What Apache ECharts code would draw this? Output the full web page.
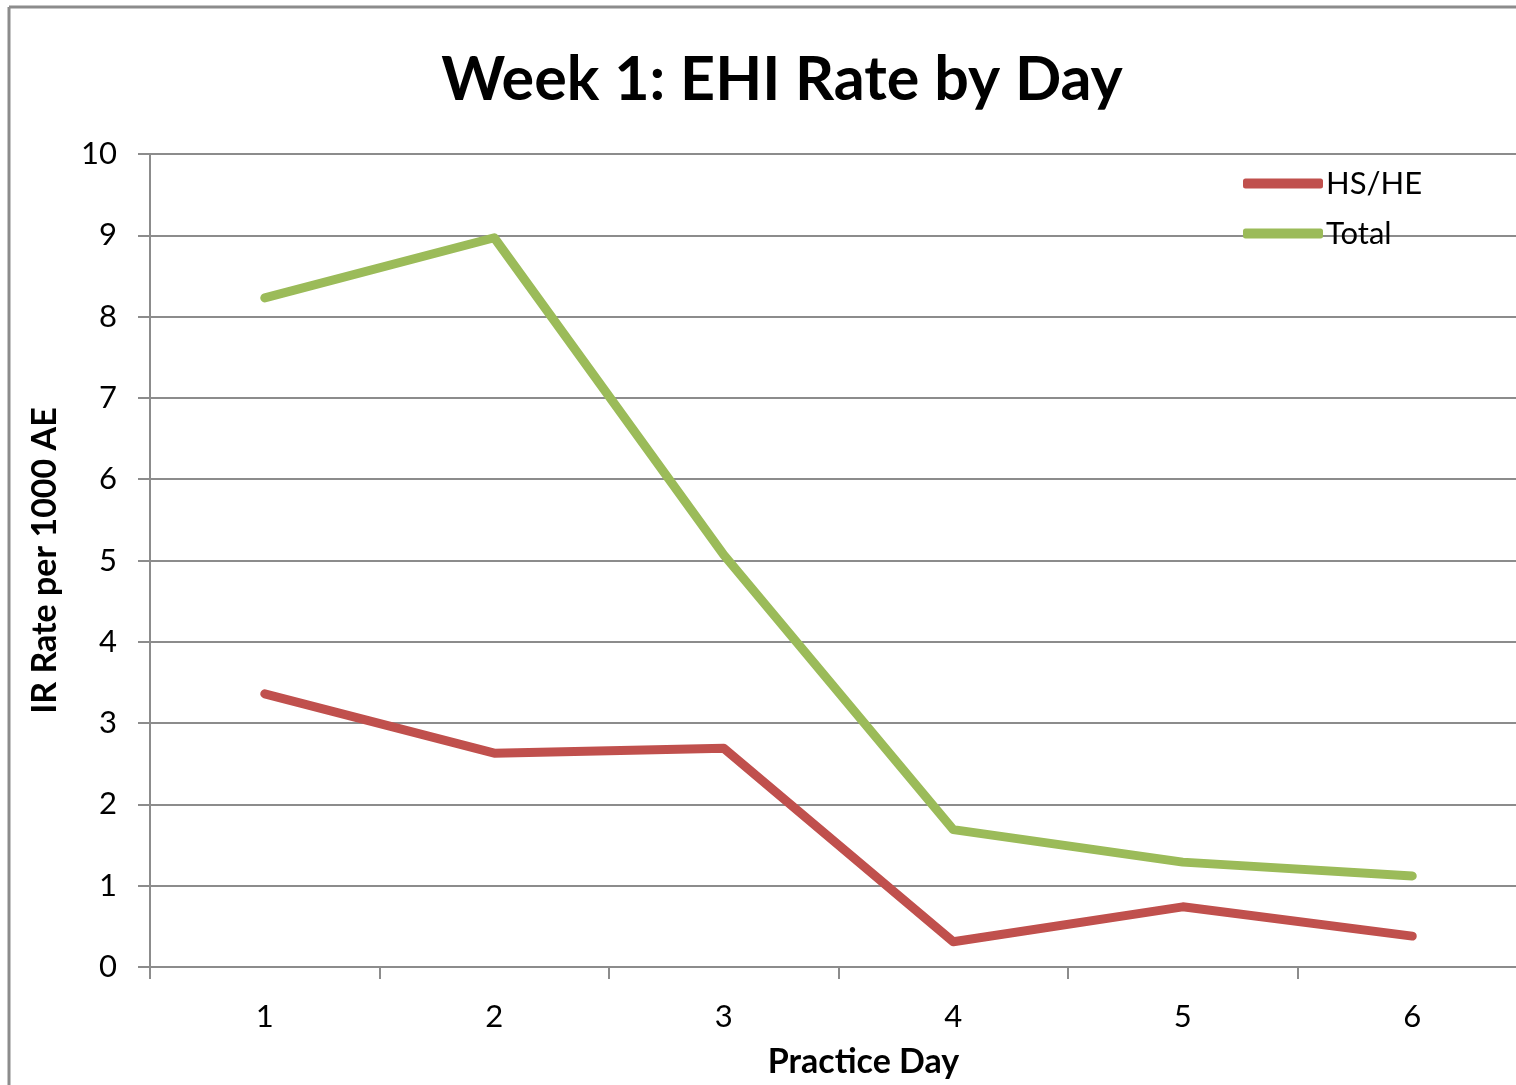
<!DOCTYPE html>
<html>
<head>
<meta charset="utf-8">
<script src="https://cdn.jsdelivr.net/npm/echarts@6/dist/echarts.min.js"></script>
<style>
  html, body { margin: 0; padding: 0; background: #fff; }
  #chart { width: 1516px; height: 1085px; }
</style>
</head>
<body>
<div id="chart"></div>
<script>
const days = ["1", "2", "3", "4", "5", "6"];
const hsHe = [3.36, 2.63, 2.69, 0.31, 0.74, 0.38];
const total = [8.23, 8.97, 5.07, 1.69, 1.29, 1.12];
const yTicks = [0, 10, 1]; // min, max, step

const font = "Lato, 'Open Sans', sans-serif";
const chart = echarts.init(document.getElementById("chart"));

chart.setOption({
  backgroundColor: "#fff",
  animation: false,
  // outer chart border, only left and top are visible
  graphic: [
    {
      type: "line",
      shape: { x1: 9, y1: 7, x2: 9, y2: 1085 },
      style: { stroke: "#8c8c8c", lineWidth: 3 },
      silent: true
    },
    {
      type: "line",
      shape: { x1: 9, y1: 7, x2: 1516, y2: 7 },
      style: { stroke: "#8c8c8c", lineWidth: 3 },
      silent: true
    }
  ],
  title: {
    text: "Week 1: EHI Rate by Day",
    left: 777,
    textAlign: "center",
    top: 45,
    textStyle: { fontFamily: font, fontSize: 61, fontWeight: "bold", color: "#000" }
  },
  legend: {
    orient: "vertical",
    left: 1238,
    top: 163,
    itemGap: 19,
    itemWidth: 80,
    itemHeight: 10,
    icon: "roundRect",
    textStyle: { fontFamily: font, fontSize: 31, color: "#000", padding: [0, 0, 0, -2] },
    data: ["HS/HE", "Total"]
  },
  grid: { left: 150, top: 154, right: -11, bottom: 118, containLabel: false, outerBoundsMode: "none" },
  xAxis: {
    type: "category",
    data: days,
    boundaryGap: true,
    name: "Practice Day",
    nameLocation: "middle",
    nameGap: 78,
    nameTextStyle: { fontFamily: font, fontSize: 34, fontWeight: "bold", color: "#000", padding: [0, 0, 0, 50] },
    axisLine: { lineStyle: { color: "#8c8c8c", width: 2 } },
    axisTick: { show: true, length: 12, inside: false, lineStyle: { color: "#8c8c8c", width: 2 } },
    axisLabel: { fontFamily: font, fontSize: 31, color: "#000", margin: 34 }
  },
  yAxis: {
    type: "value",
    min: yTicks[0],
    max: yTicks[1],
    interval: yTicks[2],
    name: "IR Rate per 1000 AE",
    nameLocation: "middle",
    nameRotate: 90,
    nameGap: 88,
    nameTextStyle: { fontFamily: font, fontSize: 34, fontWeight: "bold", color: "#000" },
    axisLine: { show: true, lineStyle: { color: "#8c8c8c", width: 2 } },
    axisTick: { show: true, length: 12, lineStyle: { color: "#8c8c8c", width: 2 } },
    axisLabel: { fontFamily: font, fontSize: 31, color: "#000", margin: 33 },
    splitLine: { show: true, lineStyle: { color: "#8c8c8c", width: 2 } }
  },
  series: [
    {
      name: "HS/HE",
      type: "line",
      data: hsHe,
      symbol: "none",
      color: "#C0504D",
      lineStyle: { width: 9, cap: "round", join: "round" }
    },
    {
      name: "Total",
      type: "line",
      data: total,
      symbol: "none",
      color: "#9BBB59",
      lineStyle: { width: 9, cap: "round", join: "round" }
    }
  ]
});
</script>
</body>
</html>
